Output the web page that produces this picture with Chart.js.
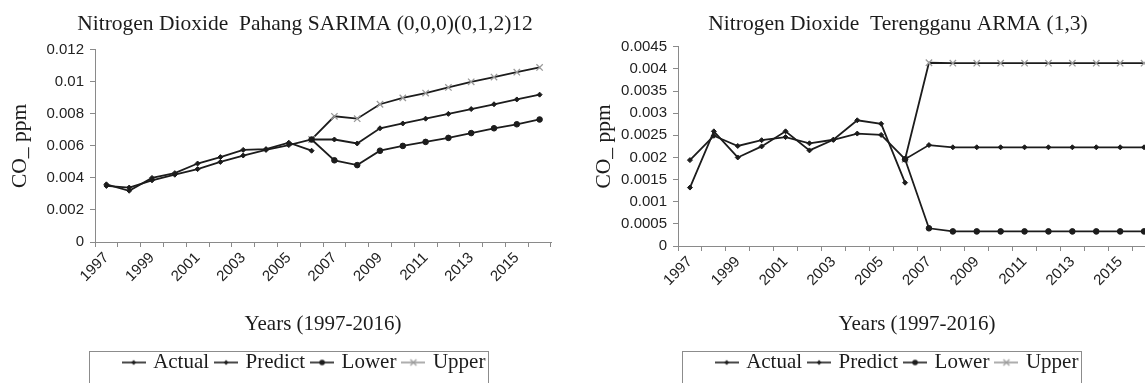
<!DOCTYPE html>
<html>
<head>
<meta charset="utf-8">
<script src="https://cdn.jsdelivr.net/npm/chart.js@4/dist/chart.umd.min.js"></script>
<style>
html,body{margin:0;padding:0;background:#fff;overflow:hidden;width:1145px;height:383px;position:relative}
#box1{position:absolute;left:0;top:0;width:610px;height:383px}
#box2{position:absolute;left:575px;top:0;width:646px;height:383px}
</style>
</head>
<body>
<div id="box1"><canvas id="c1"></canvas></div>
<div id="box2"><canvas id="c2"></canvas></div>
<script>
const years = ['1997','1998','1999','2000','2001','2002','2003','2004','2005','2006',
               '2007','2008','2009','2010','2011','2012','2013','2014','2015','2016']

// Pahang, SARIMA (0,0,0)(0,1,2)12
const pahangActual  = [0.0036,0.0032,0.0040,0.0043,0.0049,0.0053,0.00575,0.0058,0.0062,0.0057,
                       null,null,null,null,null,null,null,null,null,null]
const pahangPredict = [0.0035,0.0034,0.00385,0.0042,0.00455,0.0050,0.0054,0.00575,0.00605,0.0064,
                       0.0064,0.00615,0.0071,0.0074,0.0077,0.0080,0.0083,0.0086,0.0089,0.0092]
const pahangLower   = [null,null,null,null,null,null,null,null,null,0.0064,
                       0.0051,0.0048,0.0057,0.0060,0.00625,0.0065,0.0068,0.0071,0.00735,0.00765]
const pahangUpper   = [null,null,null,null,null,null,null,null,null,0.0064,
                       0.00785,0.0077,0.0086,0.0090,0.0093,0.00965,0.0100,0.0103,0.0106,0.0109]

// Terengganu, ARMA (1,3)
const trgActual  = [0.00132,0.00259,0.0020,0.00225,0.00259,0.00216,0.0024,0.00284,0.00276,0.00143,
                    null,null,null,null,null,null,null,null,null,null]
const trgPredict = [0.00194,0.00249,0.00226,0.00239,0.00246,0.00232,0.0024,0.00254,0.00251,0.00196,
                    0.00228,0.00223,0.00223,0.00223,0.00223,0.00223,0.00223,0.00223,0.00223,0.00223]
const trgLower   = [null,null,null,null,null,null,null,null,null,0.00196,
                    0.0004,0.00033,0.00033,0.00033,0.00033,0.00033,0.00033,0.00033,0.00033,0.00033]
const trgUpper   = [null,null,null,null,null,null,null,null,null,0.00196,
                    0.00414,0.00413,0.00413,0.00413,0.00413,0.00413,0.00413,0.00413,0.00413,0.00413]

const seriesNames = ['Actual','Predict','Lower','Upper']
const serif = 'Liberation Serif'
const sans = 'Liberation Sans'
const ink = '#1c1c1c'
const axisGrey = '#8a8a8a'

// little line+marker pictures for the legend
function legendIcon(kind){
  const c = document.createElement('canvas')
  c.width = 24; c.height = 10
  const g = c.getContext('2d')
  g.strokeStyle = kind == 'Upper' ? '#9a9a9a' : ink
  g.lineWidth = 1.6
  g.beginPath(); g.moveTo(0,5); g.lineTo(24,5); g.stroke()
  g.fillStyle = ink
  if(kind == 'Lower'){ g.beginPath(); g.arc(12,5,2.8,0,Math.PI*2); g.fill() }
  else if(kind == 'Upper'){
    g.strokeStyle = '#9a9a9a'; g.lineWidth = 1.2
    g.beginPath(); g.moveTo(9,2); g.lineTo(15,8); g.moveTo(15,2); g.lineTo(9,8); g.stroke()
  }
  else { g.beginPath(); g.moveTo(12,2.5); g.lineTo(14.5,5); g.lineTo(12,7.5); g.lineTo(9.5,5); g.fill() }
  return c
}
const icons = seriesNames.map(legendIcon)

const legendFrame = {
  id: 'legendFrame',
  afterDraw(chart){
    const lg = chart.legend
    if(!lg || !lg.legendHitBoxes || !lg.legendHitBoxes.length) return
    const hb = lg.legendHitBoxes
    const a = hb[0], b = hb[hb.length-1]
    const ctx = chart.ctx
    ctx.save()
    ctx.strokeStyle = '#8c8c8c'
    ctx.lineWidth = 1
    const x0 = Math.round(a.left - 36) + 0.5
    const x1 = Math.round(b.left + b.width + 3) + 0.5
    ctx.strokeRect(x0, Math.round(lg.top + 7) + 0.5, x1 - x0, chart.height)
    ctx.restore()
  }
}

function makeDatasets(act, pre, low, upp){
  const base = {borderColor: ink, borderWidth: 1.8, pointBackgroundColor: ink, pointBorderColor: ink,
                pointBorderWidth: 1, tension: 0, fill: false}
  return [
    Object.assign({}, base, {label:'Actual', data: act, pointStyle:'rectRot', pointRadius: 2.5}),
    Object.assign({}, base, {label:'Predict', data: pre, pointStyle:'rectRot', pointRadius: 2.5}),
    Object.assign({}, base, {label:'Lower', data: low, pointStyle:'circle', pointRadius: 2.8}),
    Object.assign({}, base, {label:'Upper', data: upp, pointStyle:'crossRot', pointRadius: 4.5,
                             pointBorderColor:'#9a9a9a', pointBorderWidth: 1.3})
  ]
}

function config(title, datasets, yMax, yStep, yWidth, padRight, xHeight, titlePad, yTitlePad){
  return {
    type: 'line',
    data: { labels: years, datasets: datasets },
    options: {
      responsive: true,
      maintainAspectRatio: false,
      animation: false,
      layout: { padding: 0 },
      plugins: {
        title: { display: true, text: title, color: ink,
                 font: {family: serif, size: 21.5, weight: 'normal'}, padding: titlePad },
        legend: {
          display: true, position: 'bottom',
          labels: {
            color: ink, font: {family: serif, size: 21}, usePointStyle: true, pointStyleWidth: 18,
            padding: 8,
            generateLabels(chart){
              const items = Chart.defaults.plugins.legend.labels.generateLabels(chart)
              items.forEach((it, i) => { it.pointStyle = icons[i] })
              return items
            }
          }
        },
        tooltip: { enabled: false }
      },
      scales: {
        x: {
          type: 'category', offset: true,
          grid: { offset: true, drawOnChartArea: false, drawTicks: true, tickLength: 5, color: axisGrey },
          border: { color: axisGrey, width: 1 },
          ticks: { autoSkip: false, maxRotation: 45, minRotation: 45, color: '#222', padding: 2,
                   font: {family: sans, size: 15},
                   callback: (v, i) => i % 2 == 0 ? years[i] : '' },
          title: { display: true, text: 'Years (1997-2016)', color: ink,
                   font: {family: serif, size: 21}, padding: {top: 0, bottom: 7} },
          afterFit: s => { s.height = xHeight }
        },
        y: {
          min: 0, max: yMax,
          grid: { drawOnChartArea: false, drawTicks: true, tickLength: 5, color: axisGrey },
          border: { color: axisGrey, width: 1 },
          ticks: { stepSize: yStep, color: '#222', padding: 6, font: {family: sans, size: 15},
                   callback: v => String(+v.toFixed(5)) },
          title: { display: true, text: 'CO_ ppm', color: ink,
                   font: {family: serif, size: 21.5}, padding: {top: yTitlePad, bottom: 0} },
          afterFit: s => { s.width = yWidth }
        },
        pad: {
          type: 'linear', position: 'right', display: true,
          grid: { display: false }, border: { display: false }, ticks: { display: false },
          afterFit: s => { s.width = padRight }
        }
      }
    },
    plugins: [legendFrame]
  }
}

new Chart(document.getElementById('c1'),
  config('Nitrogen Dioxide  Pahang SARIMA (0,0,0)(0,1,2)12',
         makeDatasets(pahangActual, pahangPredict, pahangLower, pahangUpper),
         0.012, 0.002, 95, 59, 102, {top: 11, bottom: 13}, 7))

new Chart(document.getElementById('c2'),
  config('Nitrogen Dioxide  Terengganu ARMA (1,3)',
         makeDatasets(trgActual, trgPredict, trgLower, trgUpper),
         0.0045, 0.0005, 103, 65, 98, {top: 11, bottom: 10}, 16))
</script>
</body>
</html>
